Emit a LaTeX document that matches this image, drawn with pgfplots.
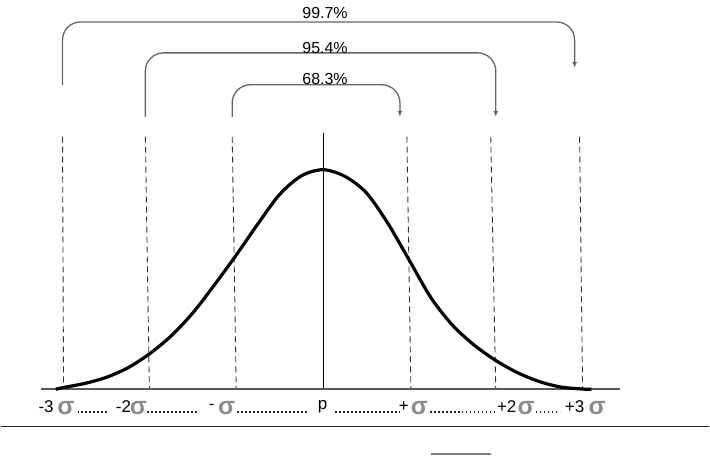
\documentclass[border=0pt]{standalone}
\usepackage{fontspec}
\setmainfont{Liberation Sans}
\usepackage{pgfplots}
\pgfplotsset{compat=1.18}
\usetikzlibrary{arrows.meta}
\begin{document}
\begin{tikzpicture}
\begin{axis}[scale only axis, width=710bp, height=456bp,
  xmin=-3.7255, xmax=4.4637, ymin=-0.3, ymax=1.7727,
  hide axis, clip=false]
% invisible frame for bounding box
\path (rel axis cs:0,0) rectangle (rel axis cs:1,1);
% dashed sigma lines
\draw[black!80, line width=0.9bp, dash pattern=on 6bp off 4bp] (axis cs:-3.0104,1.15) -- (axis cs:-2.9988,0);
\draw[black!80, line width=0.9bp, dash pattern=on 6bp off 4bp] (axis cs:-2.0531,1.15) -- (axis cs:-2.0069,0);
\draw[black!80, line width=0.9bp, dash pattern=on 6bp off 4bp] (axis cs:-1.0496,1.15) -- (axis cs:-1.0035,0);
\draw[black!80, line width=0.9bp, dash pattern=on 6bp off 4bp] (axis cs:0.9689,1.15) -- (axis cs:1.0150,0);
\draw[black!80, line width=0.9bp, dash pattern=on 6bp off 4bp] (axis cs:1.9377,1.15) -- (axis cs:1.9954,0);
\draw[black!80, line width=0.9bp, dash pattern=on 6bp off 4bp] (axis cs:2.9642,1.15) -- (axis cs:2.9988,0);
% mean line
\draw[black, line width=1bp] (axis cs:0,1.1682) -- (axis cs:0,0);
% baseline
\draw[black!65, line width=2bp] (axis cs:-3.2641,0) -- (axis cs:3.4256,0);
% curve
\addplot[black, line width=3.2bp, smooth] coordinates {
(-3.09,0) (-3.0,0.008) (-2.75,0.027) (-2.5,0.055) (-2.25,0.099) (-2,0.163)
(-1.75,0.245) (-1.5,0.35) (-1.25,0.478) (-1,0.613) (-0.75,0.755) (-0.5,0.888)
(-0.25,0.972) (0,1.0) (0.25,0.97) (0.5,0.895) (0.75,0.755) (1,0.585)
(1.25,0.415) (1.5,0.29) (1.75,0.20) (2,0.13) (2.25,0.075) (2.5,0.035)
(2.75,0.01) (3.0,0.001) (3.1,0)
};
% brackets
\draw[black!60, line width=1.3bp, rounded corners=18bp, -{Latex[length=6bp,width=5bp]}]
  (axis cs:-3.0104,1.3864) -- (axis cs:-3.0104,1.6727) -- (axis cs:2.9066,1.6727) -- (axis cs:2.9066,1.4636);
\draw[black!60, line width=1.3bp, rounded corners=18bp, -{Latex[length=6bp,width=5bp]}]
  (axis cs:-2.0531,1.2409) -- (axis cs:-2.0531,1.5318) -- (axis cs:1.9954,1.5318) -- (axis cs:1.9954,1.2409);
\draw[black!60, line width=1.3bp, rounded corners=18bp, -{Latex[length=6bp,width=5bp]}]
  (axis cs:-1.0496,1.2409) -- (axis cs:-1.0496,1.3864) -- (axis cs:0.8881,1.3864) -- (axis cs:0.8881,1.2409);
\node[font=\fontsize{16bp}{18bp}\selectfont, anchor=center, inner sep=0pt] at (axis cs:0.0231,1.7136) {99.7\%};
\node[font=\fontsize{16bp}{18bp}\selectfont, anchor=center, inner sep=0pt] at (axis cs:0.0231,1.5545) {95.4\%};
\node[font=\fontsize{16bp}{18bp}\selectfont, anchor=center, inner sep=0pt] at (axis cs:0.0231,1.4136) {68.3\%};
% label row
\tikzset{lab/.style={font=\fontsize{17bp}{19bp}\selectfont, inner sep=0pt, anchor=center},
  sig/.style={font=\fontsize{25bp}{27bp}\selectfont\bfseries, text=black!45, inner sep=0pt, anchor=center},
  dotl/.style={black!85, line width=1.7bp, dash pattern=on 1.7bp off 2.3bp}}
\node[lab] at (axis cs:-3.2007,-0.0795) {-3};
\node[sig] at (axis cs:-2.9700,-0.0864) {σ};
\draw[dotl] (axis cs:-2.8374,-0.1023) -- (axis cs:-2.4913,-0.1023);
\node[lab] at (axis cs:-2.3068,-0.0795) {-2};
\node[sig] at (axis cs:-2.1338,-0.0864) {σ};
\draw[dotl] (axis cs:-2.0300,-0.1023) -- (axis cs:-1.4533,-0.1023);
\node[lab] at (axis cs:-1.2860,-0.0795) {-};
\node[sig] at (axis cs:-1.1130,-0.0864) {σ};
\draw[dotl] (axis cs:-0.9919,-0.1023) -- (axis cs:-0.1730,-0.1023);
\node[lab] at (axis cs:-0.0058,-0.0795) {p};
\draw[dotl] (axis cs:0.1384,-0.1023) -- (axis cs:0.8881,-0.1023);
\node[lab] at (axis cs:0.9343,-0.0795) {+};
\node[sig] at (axis cs:1.1130,-0.0864) {σ};
\draw[dotl] (axis cs:1.2341,-0.1023) -- (axis cs:2.0069,-0.1023);
\node[lab] at (axis cs:2.1223,-0.0795) {+2};
\node[sig] at (axis cs:2.3472,-0.0864) {σ};
\draw[dotl] (axis cs:2.4567,-0.1023) -- (axis cs:2.7336,-0.1023);
\node[lab] at (axis cs:2.9066,-0.0795) {+3};
\node[sig] at (axis cs:3.1661,-0.0864) {σ};
% bottom lines
\draw[black!85, line width=1.3bp] (axis cs:-3.7255,-0.1682) -- (axis cs:4.4637,-0.1682);
\draw[black!50, line width=2bp] (axis cs:1.2457,-0.2955) -- (axis cs:1.9377,-0.2955);
\end{axis}
\end{tikzpicture}
\end{document}
